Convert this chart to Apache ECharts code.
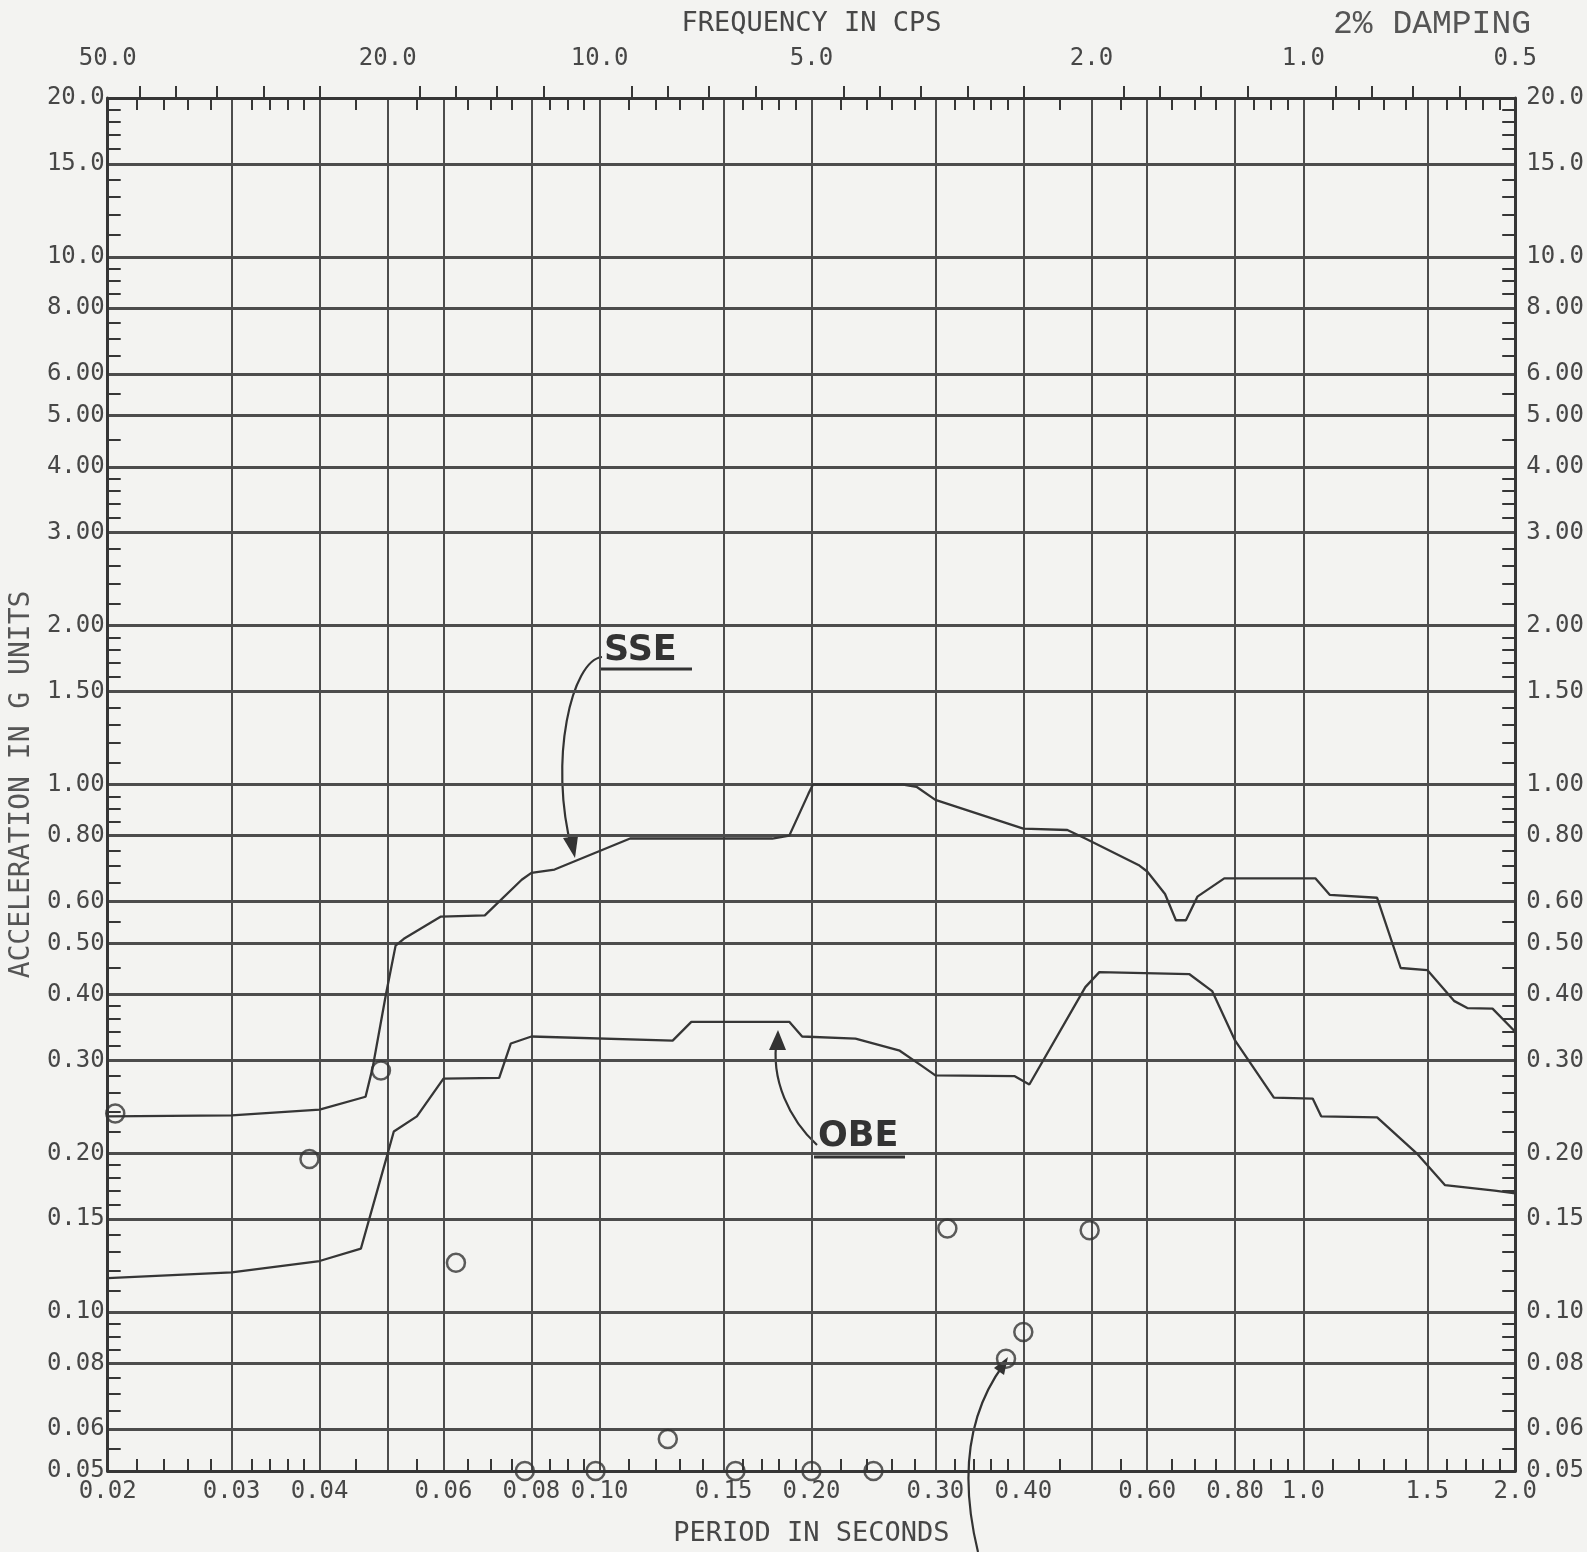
<!DOCTYPE html>
<html><head><meta charset="utf-8">
<script src="https://cdn.jsdelivr.net/npm/echarts@6/dist/echarts.min.js"></script>
<style>html,body{margin:0;padding:0;background:#f3f3f1}#c{width:1587px;height:1552px}</style>
</head><body><div id="c"></div>
<script>
// ---- axis tick / label tables ----
const periodLabelValues = [0.02,0.03,0.04,0.06,0.08,0.10,0.15,0.20,0.30,0.40,0.60,0.80,1.0,1.5,2.0];
const periodLabelTexts  = ['0.02','0.03','0.04','0.06','0.08','0.10','0.15','0.20','0.30','0.40','0.60','0.80','1.0','1.5','2.0'];
const periodGridValues  = [0.03,0.04,0.05,0.06,0.08,0.10,0.15,0.20,0.30,0.40,0.50,0.60,0.80,1.0,1.5];
const periodMinorTicks  = [0.022,0.024,0.026,0.028,0.032,0.034,0.036,0.038,0.045,0.055,0.065,0.07,0.075,0.085,0.09,0.095,
  0.11,0.12,0.13,0.14,0.16,0.17,0.18,0.19,0.22,0.24,0.26,0.28,0.32,0.34,0.36,0.38,0.45,0.55,0.65,0.7,0.75,0.85,0.9,0.95,
  1.1,1.2,1.3,1.4,1.6,1.7,1.8,1.9];
const freqLabelValues = [50,20,10,5,2,1,0.5];
const freqLabelTexts  = ['50.0','20.0','10.0','5.0','2.0','1.0','0.5'];
const freqMinorTicks  = [45,40,35,30,25,18,16,14,12,9,8,7,6,4.5,4,3.5,3,2.5,1.8,1.6,1.4,1.2,0.9,0.8,0.7,0.6];
const accelGridValues = [0.05,0.06,0.08,0.10,0.15,0.20,0.30,0.40,0.50,0.60,0.80,1.0,1.5,2.0,3.0,4.0,5.0,6.0,8.0,10,15,20];
const accelLabelTexts = ['0.05','0.06','0.08','0.10','0.15','0.20','0.30','0.40','0.50','0.60','0.80','1.00','1.50','2.00','3.00','4.00','5.00','6.00','8.00','10.0','15.0','20.0'];
const accelMinorTicks = [0.055,0.065,0.07,0.075,0.085,0.09,0.095,0.11,0.12,0.13,0.14,0.16,0.17,0.18,0.19,0.22,0.24,0.26,0.28,
  0.32,0.34,0.36,0.38,0.45,0.55,0.65,0.7,0.75,0.85,0.9,0.95,1.1,1.2,1.3,1.4,1.6,1.7,1.8,1.9,2.2,2.4,2.6,2.8,3.2,3.4,3.6,3.8,
  4.5,5.5,6.5,7,7.5,8.5,9,9.5,11,12,13,14,16,17,18,19];

// ---- series values (period s, acceleration g) ----
const ssePeriod = [0.02,0.03,0.04,0.0465,0.0476,0.0497,0.0513,0.0527,0.0595,0.0687,0.0775,0.08,0.0863,0.1105,0.176,0.186,0.198,0.201,
  0.27,0.282,0.30,0.40,0.462,0.49,0.583,0.60,0.636,0.659,0.681,0.707,0.772,1.04,1.09,1.273,1.375,1.5,1.637,1.71,1.857,2.0];
const sseAccel  = [0.235,0.236,0.242,0.256,0.291,0.40,0.495,0.51,0.562,0.565,0.66,0.68,0.69,0.79,0.79,0.80,0.96,1.0,
  1.0,0.99,0.935,0.825,0.82,0.79,0.704,0.684,0.62,0.553,0.553,0.613,0.664,0.664,0.618,0.61,0.449,0.445,0.389,0.377,0.376,0.34];
const obePeriod = [0.02,0.03,0.04,0.0458,0.05,0.051,0.055,0.06,0.072,0.0748,0.08,0.127,0.135,0.186,0.194,0.231,0.267,0.288,0.30,
  0.389,0.408,0.49,0.513,0.689,0.742,0.80,0.908,1.031,1.06,1.273,1.449,1.59,1.87,2.0];
const obeAccel  = [0.116,0.119,0.125,0.132,0.20,0.22,0.235,0.277,0.278,0.323,0.333,0.327,0.355,0.355,0.333,0.33,0.313,0.292,0.281,
  0.28,0.27,0.413,0.441,0.437,0.406,0.327,0.255,0.254,0.235,0.234,0.20,0.174,0.17,0.168];
const markerPeriod = [0.0205,0.0387,0.0489,0.0625,0.0783,0.0987,0.125,0.156,0.20,0.245,0.312,0.378,0.40,0.497];
const markerAccel  = [0.238,0.195,0.287,0.124,0.05,0.05,0.0575,0.05,0.05,0.05,0.144,0.0816,0.0917,0.143];

const zip = (a, b) => a.map((v, i) => [v, b[i]]);
const lookup = (vals, texts) => v => {
  for (let i = 0; i < vals.length; i++) if (Math.abs(Math.log(v) - Math.log(vals[i])) < 1e-4) return texts[i];
  return '';
};
const freqPeriods = freqLabelValues.map(f => 1 / f);
const freqMinorPeriods = freqMinorTicks.map(f => 1 / f);

const INK = '#363636';
const GRIDC = '#4c4c4c';
const FONT = 'DejaVu Sans Mono';
const lab = {fontFamily: FONT, fontSize: 24, color: '#474747'};

const baseX = {type: 'log', logBase: 10, min: 0.02, max: 2.0, splitLine: {show: false}, axisLine: {show: false},
  axisTick: {show: false}, axisLabel: {show: false}, minorTick: {show: false}, minorSplitLine: {show: false}};
const baseY = {type: 'log', logBase: 10, min: 0.05, max: 20, splitLine: {show: false}, axisLine: {show: false},
  axisTick: {show: false}, axisLabel: {show: false}, minorTick: {show: false}, minorSplitLine: {show: false}};

const option = {
  backgroundColor: '#f3f3f1',
  animation: false,
  title: {text: '2% DAMPING', left: 1328, top: 3,
    textStyle: {fontFamily: 'Liberation Mono', fontWeight: 'normal', fontSize: 33, color: '#555'}},
  grid: {left: 101, right: 57, top: 98, bottom: 69, containLabel: false},
  xAxis: [
    Object.assign({}, baseX, {position: 'bottom',
      name: 'PERIOD IN SECONDS', nameLocation: 'middle', nameGap: 49,
      nameTextStyle: {fontFamily: FONT, fontSize: 27, color: '#474747'},
      axisLine: {show: true, lineStyle: {color: INK, width: 3}},
      axisTick: {show: false, customValues: periodGridValues},
      splitLine: {show: true, lineStyle: {color: GRIDC, width: 2}},
      axisLabel: {show: true, customValues: periodLabelValues, formatter: lookup(periodLabelValues, periodLabelTexts),
        margin: 9, ...lab}}),
    Object.assign({}, baseX, {position: 'bottom',
      axisTick: {show: true, inside: true, length: 12, customValues: periodMinorTicks, lineStyle: {color: INK, width: 2}}}),
    Object.assign({}, baseX, {position: 'top',
      axisLine: {show: true, lineStyle: {color: INK, width: 3}},
      axisTick: {show: true, inside: true, length: 12, customValues: periodMinorTicks, lineStyle: {color: INK, width: 2}}}),
    Object.assign({}, baseX, {position: 'top',
      name: 'FREQUENCY IN CPS', nameLocation: 'middle', nameGap: 61,
      nameTextStyle: {fontFamily: FONT, fontSize: 27, color: '#474747'},
      axisTick: {show: true, inside: false, length: 12, customValues: freqMinorPeriods, lineStyle: {color: INK, width: 2}},
      axisLabel: {show: true, customValues: freqPeriods, formatter: lookup(freqPeriods, freqLabelTexts), margin: 27, ...lab}})
  ],
  yAxis: [
    Object.assign({}, baseY, {position: 'left',
      name: 'ACCELERATION IN G UNITS', nameLocation: 'middle', nameGap: 70, nameRotate: 90,
      nameTextStyle: {fontFamily: FONT, fontSize: 28, color: '#555'},
      axisLine: {show: true, lineStyle: {color: INK, width: 3}},
      axisTick: {show: false, customValues: accelGridValues},
      splitLine: {show: true, lineStyle: {color: GRIDC, width: 3}},
      axisLabel: {show: true, customValues: accelGridValues, formatter: lookup(accelGridValues, accelLabelTexts), margin: 3, ...lab}}),
    Object.assign({}, baseY, {position: 'left',
      axisTick: {show: true, inside: true, length: 13, customValues: accelMinorTicks, lineStyle: {color: INK, width: 2}}}),
    Object.assign({}, baseY, {position: 'right',
      axisLine: {show: true, lineStyle: {color: INK, width: 3}},
      axisTick: {show: true, inside: true, length: 13, customValues: accelMinorTicks, lineStyle: {color: INK, width: 2}},
      axisLabel: {show: true, customValues: accelGridValues, formatter: lookup(accelGridValues, accelLabelTexts), margin: 11, ...lab}})
  ],
  series: [
    {type: 'line', name: 'SSE', data: zip(ssePeriod, sseAccel), showSymbol: false, z: 5,
      lineStyle: {color: INK, width: 2.3}},
    {type: 'line', name: 'OBE', data: zip(obePeriod, obeAccel), showSymbol: false, z: 5,
      lineStyle: {color: INK, width: 2.3}},
    {type: 'scatter', name: 'points', data: zip(markerPeriod, markerAccel), symbol: 'circle', symbolSize: 18, z: 6,
      itemStyle: {color: 'rgba(0,0,0,0)', borderColor: '#333', borderWidth: 2.5}}
  ],
  graphic: [
    {type: 'text', left: 604, top: 633, style: {text: 'SSE', font: 'bold 35px "DejaVu Sans"', fill: '#333'}},
    {type: 'line', shape: {x1: 600, y1: 669, x2: 692, y2: 669}, style: {stroke: '#333', lineWidth: 3}},
    {type: 'bezierCurve', shape: {x1: 602, y1: 657, cpx1: 572, cpy1: 660, cpx2: 548, cpy2: 760, x2: 572, y2: 850},
      style: {stroke: '#333', lineWidth: 2.2, fill: null}},
    {type: 'polygon', shape: {points: [[575, 858], [563, 838], [578, 836]]}, style: {fill: '#333'}},
    {type: 'text', left: 818, top: 1119, style: {text: 'OBE', font: 'bold 35px "DejaVu Sans"', fill: '#333'}},
    {type: 'line', shape: {x1: 814, y1: 1157, x2: 905, y2: 1157}, style: {stroke: '#333', lineWidth: 3}},
    {type: 'bezierCurve', shape: {x1: 817, y1: 1145, cpx1: 790, cpy1: 1120, cpx2: 770, cpy2: 1080, x2: 777, y2: 1038},
      style: {stroke: '#333', lineWidth: 2.2, fill: null}},
    {type: 'polygon', shape: {points: [[778, 1030], [769, 1050], [786, 1050]]}, style: {fill: '#333'}},
    {type: 'bezierCurve', shape: {x1: 978, y1: 1552, cpx1: 958, cpy1: 1470, cpx2: 970, cpy2: 1410, x2: 1004, y2: 1364},
      style: {stroke: '#333', lineWidth: 2.2, fill: null}},
    {type: 'polygon', shape: {points: [[1008, 1357], [994, 1368], [1004, 1375]]}, style: {fill: '#333'}}
  ]
};
const chart = echarts.init(document.getElementById('c'), null, {renderer: 'canvas', width: 1587, height: 1552});
chart.setOption(option);
</script></body></html>
